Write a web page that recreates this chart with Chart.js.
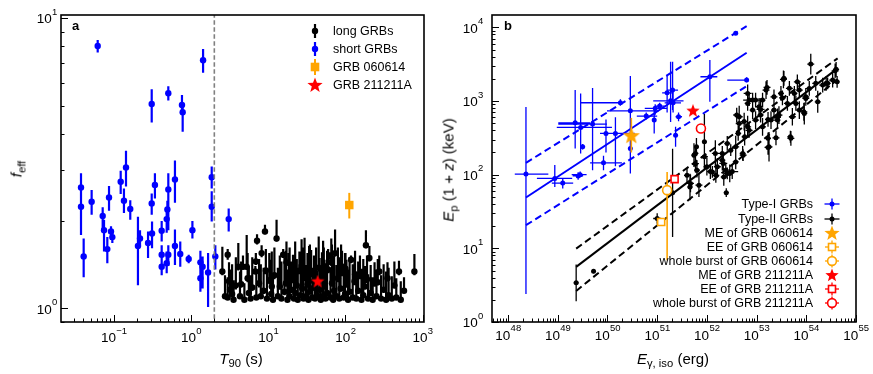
<!DOCTYPE html>
<html>
<head>
<meta charset="utf-8">
<script src="https://cdn.jsdelivr.net/npm/chart.js"></script>
<style>
  body { margin: 0; background: #fff; width: 873px; height: 374px; position: relative; overflow: hidden;
         font-family: "Liberation Sans", Arial, sans-serif; color: #000; }
  canvas { position: absolute; top: 0; }
  .t { position: absolute; white-space: nowrap; line-height: 1; }
  .c { transform: translate(-50%, -50%); }
  .r { transform: translate(-50%, -50%) rotate(-90deg); }
  .ttl { font-size: 15px; }
  .ttl sub { font-size: 0.75em; vertical-align: -0.35em; line-height: 0; }
  .lg { position: absolute; font-size: 12.5px; line-height: 16px; height: 16px; white-space: nowrap; }
  .lg svg { position: absolute; top: 0; }
  .pl { position: absolute; font-weight: bold; font-size: 13px; }
</style>
</head>
<body>
<canvas id="ca" width="440" height="374" style="left:0"></canvas>
<canvas id="cb" width="433" height="374" style="left:440px"></canvas>

<div class="pl" style="left:72px;top:18px">a</div>
<div class="pl" style="left:504px;top:18px">b</div>

<div class="t ttl r" style="left:16px;top:169px"><i>f</i><sub>eff</sub></div>
<div class="t ttl c" style="left:241px;top:358px"><i>T</i><sub>90</sub> (s)</div>
<div class="t ttl r" style="left:448px;top:170px"><i>E</i><sub>p</sub> (1 + <i>z</i>) (keV)</div>
<div class="t ttl c" style="left:673px;top:358px"><i>E</i><sub>γ, iso</sub> (erg)</div>

<div id="legA"></div>
<div id="legB"></div>

<script>
const FONT = '"Liberation Sans", Arial, sans-serif';
const BLUE = '#0000ff', ORANGE = '#ffa500', RED = '#ff0000', GREY = '#808080';

// ---------------- panel a : f_eff vs T90 ----------------
const shortT  = [0.0617,1.43,0.309,0.507,0.762,0.778,0.0375,0.0375,0.0406,0.0515,0.0716,0.0745,0.0822,0.0865,0.0918,0.0955,0.1225,0.135,0.1435,0.163,0.205,0.218,0.277,0.309,0.312,0.340,0.416,0.416,0.416,0.483,0.493,0.507,0.483,0.507,0.618,0.618,0.724,0.931,1.04,1.32,1.32,1.41,1.66,1.85,1.85,2.06,3.07];
const shortF  = [8.02,7.16,5.06,5.51,5.02,4.74,2.61,2.24,1.51,2.33,2.08,1.86,1.60,2.41,1.84,1.76,2.73,2.35,3.06,2.20,1.64,1.74,1.68,2.30,1.81,2.66,1.85,1.53,1.39,2.03,2.19,2.57,1.43,1.53,2.78,1.64,1.54,1.48,1.86,1.44,1.27,1.39,1.33,2.83,2.24,1.51,2.03];
const shortLo = [7.62,6.49,4.37,5.20,4.70,4.06,2.36,1.79,1.28,2.10,1.86,1.57,1.43,2.17,1.72,1.68,2.48,2.13,2.63,2.02,1.20,1.63,1.49,2.10,1.61,2.39,1.70,1.40,1.30,1.82,2.00,1.86,1.32,1.40,2.31,1.41,1.39,1.43,1.74,1.31,1.14,1.17,1.01,2.59,1.99,1.36,1.84];
const shortHi = [8.42,7.83,5.69,5.83,5.44,5.00,2.92,2.50,1.74,2.56,2.23,2.02,1.76,2.64,1.92,1.84,2.98,2.59,3.49,2.36,2.07,1.86,1.84,2.49,1.99,2.92,2.00,1.65,1.52,2.23,2.35,2.92,1.57,1.65,3.23,1.87,1.70,1.53,2.00,1.58,1.39,1.51,1.55,3.08,2.53,1.65,2.21];

const longT  = [2.54,2.75,2.98,2.98,3.2,3.4,3.55,3.8,4.09,4.3,4.45,4.7,4.9,5.25,5.6,5.9,6.2,6.9,6.8,7.15,7.0,7.6,8.2,8.0,8.7,9.06,9.6,10.3,10.9,11.5,12.0,12.8,13.3,14.1,14.8,15.6,16.2,16.9,17.7,18.4,18.9,19.8,20.9,21.5,22.3,23.4,24.1,25.3,26.2,27.5,28.6,29.5,30.9,32.2,33.1,34.6,35.9,37.2,39.1,40.3,41.6,43.0,46.1,47.9,49.6,51.3,53.5,55.2,57.8,59.6,61.7,64.0,66.8,69.3,73.3,71.2,76.4,79.7,83.1,86.5,90.2,94.8,98.6,103,108,113,118,124,131,138,146,154,161,170,184,178,196,204,212,225,238,252,274,289,312,336,362,398,430,493,455,520,573,781,3.1,5.4,9.3,11.1,17.2,27.0,33.8,45.0,52.4,65.5,87.7,100,133,190,262,350];
const longF  = [1.34,1.10,1.53,1.09,1.16,1.12,1.07,1.20,1.39,1.10,1.21,1.39,1.07,1.39,1.13,1.08,1.18,1.45,1.34,1.71,1.09,1.22,1.55,1.10,1.15,1.84,1.08,1.25,1.12,1.07,1.30,1.74,1.10,1.19,1.08,1.53,1.14,1.22,1.07,1.33,1.10,1.16,1.26,1.08,1.13,1.20,1.07,1.35,1.11,1.17,1.08,1.28,1.10,1.21,1.07,1.14,1.32,1.09,1.18,1.08,1.25,1.11,1.16,1.07,1.29,1.10,1.19,1.08,1.13,1.36,1.51,1.09,1.22,1.07,1.55,1.15,1.10,1.27,1.08,1.17,1.33,1.09,1.12,1.21,1.07,1.14,1.47,1.09,1.24,1.08,1.15,1.30,1.07,1.11,1.65,1.19,1.08,1.49,1.13,1.07,1.22,1.10,1.34,1.08,1.16,1.07,1.11,1.08,1.20,1.34,1.09,1.07,1.15,1.34,1.24,1.27,1.35,1.19,1.44,1.40,1.24,1.38,1.31,1.44,1.40,1.37,1.31,1.26,1.23,1.27];
const longLo = [1.30,1.08,1.47,1.07,1.13,1.10,1.06,1.16,1.35,1.08,1.18,1.36,1.06,1.36,1.11,1.07,1.15,1.41,1.32,1.66,1.07,1.18,1.50,1.08,1.12,1.80,1.07,1.21,1.10,1.06,1.26,1.70,1.08,1.16,1.07,1.49,1.11,1.19,1.06,1.29,1.08,1.13,1.22,1.07,1.11,1.17,1.06,1.31,1.09,1.14,1.07,1.24,1.08,1.18,1.06,1.12,1.28,1.07,1.15,1.07,1.21,1.09,1.13,1.06,1.25,1.08,1.16,1.07,1.11,1.32,1.47,1.07,1.19,1.06,1.51,1.12,1.08,1.23,1.07,1.14,1.29,1.07,1.10,1.18,1.06,1.12,1.43,1.07,1.20,1.07,1.12,1.26,1.06,1.09,1.61,1.16,1.07,1.45,1.11,1.06,1.19,1.08,1.30,1.07,1.13,1.06,1.09,1.07,1.17,1.30,1.07,1.06,1.13,1.30,1.21,1.23,1.31,1.16,1.40,1.36,1.21,1.34,1.27,1.40,1.36,1.33,1.27,1.22,1.20,1.24];
const longHi = [1.63,1.30,1.60,1.28,1.36,1.42,1.25,1.50,1.68,1.34,1.45,1.52,1.22,1.79,1.40,1.30,1.50,1.55,1.40,1.80,1.33,1.48,1.65,1.42,1.38,1.94,1.36,1.55,1.47,1.29,1.62,2.02,1.38,1.52,1.45,1.60,1.50,1.58,1.34,1.55,1.62,1.45,1.53,1.40,1.70,1.48,1.36,1.57,1.52,1.44,1.62,1.75,1.41,1.55,1.48,1.66,1.59,1.38,1.52,1.44,1.62,1.35,1.49,1.40,1.56,1.71,1.47,1.43,1.58,1.60,1.56,1.38,1.66,1.45,1.87,1.52,1.41,1.62,1.50,1.44,1.58,1.39,1.55,1.47,1.36,1.50,1.52,1.42,1.49,1.33,1.45,1.52,1.37,1.48,1.86,1.40,1.31,1.64,1.41,1.28,1.44,1.36,1.52,1.30,1.42,1.34,1.38,1.29,1.45,1.46,1.27,1.24,1.28,1.54,1.44,1.55,1.60,1.57,1.70,1.73,1.64,1.77,1.62,1.74,1.66,1.55,1.58,1.52,1.48,1.44];

const grb060614T = [112],  grb060614F = [2.27], grb060614Lo = [2.04], grb060614Hi = [2.50];
const grb211211T = [43.6], grb211211F = [1.235];
const t90Cut = 2;

const aXMajor = [0.1, 1, 10, 100, 1000];
const aXLabels = ['10^\u22121', '10^0', '10^1', '10^2', '10^3'];
const aYMajor = [1, 10];
const aYLabels = ['10^0', '10^1'];

// ---------------- panel b : Ep(1+z) vs E_iso ----------------
const typeILogE   = [48.36,48.94,49.10,49.41,49.45,49.35,49.46,49.50,49.70,49.92,49.97,50.16,50.26,50.46,50.46,50.78,50.94,50.96,51.05,51.20,51.31,51.27,51.32,51.43,51.37,52.06,52.58,52.80];
const typeIEp     = [102,89,77,96,100,506,438,239,486,145,363,363,946,736,227,624,550,794,852,1290,1406,1006,945,611,344,2133,8280,1923];
const typeILogELo = [48.135,48.58,48.88,49.30,49.28,49.01,48.98,49.45,49.01,49.65,49.85,49.85,49.45,49.99,50.46,50.59,50.94,50.75,50.95,51.10,51.20,50.92,51.15,51.37,51.37,51.87,52.55,52.41];
const typeILogEHi = [48.81,49.29,49.31,49.51,49.58,49.65,50.09,49.55,49.99,50.29,50.29,50.55,50.29,51.03,50.46,51.00,50.94,51.20,51.15,51.30,51.42,51.53,51.48,51.50,51.37,52.21,52.61,52.80];
const typeIEpLo   = [2.4,68,65,85,92,227,194,220,115,115,200,130,870,326,104,560,363,650,760,700,752,520,700,530,239,975,7900,1800];
const typeIEpHi   = [830,135,88,108,110,1406,1260,260,1500,180,560,600,1060,2180,446,700,752,900,950,2200,3400,3400,1400,700,446,3600,8700,2100];

const typeIILogE = [49.37,49.72,51.0,51.31,51.6,51.66,51.67,51.74,51.77,51.77,51.79,51.8,51.84,51.95,51.95,52.0,52.07,52.11,52.17,52.18,52.21,52.31,52.31,52.33,52.34,52.38,52.39,52.41,52.41,52.46,52.48,52.51,52.58,52.58,52.6,52.63,52.65,52.65,52.72,52.73,52.75,52.76,52.82,52.82,52.82,52.85,52.85,52.92,52.92,52.98,52.98,53.05,53.08,53.08,53.12,53.12,53.19,53.21,53.23,53.23,53.23,53.25,53.29,53.35,53.35,53.39,53.42,53.42,53.45,53.49,53.52,53.54,53.55,53.62,53.66,53.68,53.69,53.72,53.76,53.79,53.82,53.86,53.86,53.95,53.96,53.99,53.99,54.06,54.09,54.19,54.23,54.33,54.4,54.43,54.53,54.58,54.6,54.62];
const typeIIEp   = [3.4,4.9,25.4,56.6,98,68,76,184,141,194,239,115,72,279,175,128,110,109,194,98,128,157,194,142,93,115,57,104,265,104,215,110,239,149,645,363,495,611,194,184,525,327,446,927,1267,1028,400,752,1028,550,1028,836,645,769,446,1028,1406,1530,562,234,311,239,550,752,1140,316,550,600,643,1267,1100,1964,2030,927,1484,327,311,611,1267,927,1820,752,1405,713,677,1082,1140,1480,3170,1735,975,1645,1735,1735,1923,2570,2690,1820];
// half widths of the error bars, in dex
const typeIIdEp  = [0.25,0.03,0.07,0.6,0.10,0.18,0.12,0.16,0.12,0.10,0.12,0.10,0.16,0.38,0.10,0.12,0.10,0.08,0.18,0.10,0.12,0.14,0.10,0.10,0.12,0.10,0.06,0.08,0.10,0.12,0.08,0.10,0.15,0.10,0.10,0.10,0.12,0.15,0.10,0.08,0.12,0.12,0.15,0.10,0.12,0.08,0.10,0.12,0.10,0.12,0.10,0.12,0.10,0.15,0.12,0.10,0.12,0.10,0.10,0.10,0.08,0.20,0.12,0.12,0.10,0.10,0.10,0.12,0.12,0.10,0.10,0.12,0.10,0.10,0.10,0.08,0.10,0.12,0.10,0.10,0.10,0.12,0.10,0.12,0.15,0.10,0.12,0.10,0.14,0.10,0.15,0.10,0.10,0.08,0.10,0.10,0.10,0.08];
const typeIIdE   = [0.05,0.03,0.08,0.05,0.06,0.05,0.07,0.05,0.07,0.06,0.05,0.06,0.07,0.05,0.07,0.07,0.06,0.05,0.07,0.07,0.07,0.06,0.07,0.08,0.06,0.07,0.05,0.07,0.06,0.07,0.05,0.12,0.07,0.06,0.07,0.06,0.07,0.07,0.06,0.07,0.07,0.06,0.07,0.06,0.08,0.12,0.07,0.06,0.07,0.07,0.06,0.07,0.06,0.08,0.07,0.06,0.07,0.07,0.06,0.07,0.06,0.07,0.07,0.06,0.07,0.07,0.06,0.07,0.07,0.06,0.07,0.07,0.06,0.07,0.07,0.06,0.07,0.07,0.06,0.07,0.07,0.06,0.07,0.07,0.06,0.07,0.07,0.06,0.07,0.07,0.06,0.07,0.07,0.06,0.07,0.07,0.06,0.05];

const me060614 = { logE: 50.48, ep: 334, epLo: 200, epHi: 590 };
const ee060614 = { logE: 51.08, ep: 22.8, logELo: 51.03, logEHi: 51.14, epLo: 20.5, epHi: 25 };
const wb060614 = { logE: 51.2, ep: 61.6, epLo: 6.9, epHi: 109 };
const me211211 = { logE: 51.72, ep: 729 };
const ee211211 = { logE: 51.35, ep: 87, epLo: 80, epHi: 94 };
const wb211211 = { logE: 51.88, ep: 424 };

const typeIFitLogE = [48.36, 52.80];
const typeIFitEp   = [49, 4520];
const typeIUpEp    = [145, 10400];
const typeILowEp   = [20.6, 1593];
const typeIIFitLogE = [49.37, 54.63];
const typeIIFitEp   = [5.6, 2770];
const typeIIUpEp    = [9.9, 3790];
const typeIILowEp   = [2.64, 1964];

const bXMajor = [1e48, 1e49, 1e50, 1e51, 1e52, 1e53, 1e54, 1e55];
const bXLabels = ['10^48', '10^49', '10^50', '10^51', '10^52', '10^53', '10^54', '10^55'];
const bYMajor = [1, 10, 100, 1000, 10000];
const bYLabels = ['10^0', '10^1', '10^2', '10^3', '10^4'];

// ---------------- helpers ----------------
const p10 = v => Math.pow(10, v);

function logTicks(min, max, majors, labels) {
  const out = [];
  const lo = Math.floor(Math.log10(min)), hi = Math.ceil(Math.log10(max));
  for (let e = lo; e <= hi; e++) {
    for (let k = 1; k <= 9; k++) {
      const v = k * Math.pow(10, e);
      if (v < min * 0.99999 || v > max * 1.00001) continue;
      const mi = majors.findIndex(m => Math.abs(m / v - 1) < 1e-9);
      out.push({ value: v, major: mi >= 0, lbl: mi >= 0 ? labels[mi] : '' });
    }
  }
  return out;
}

// tick labels are laid out by the scale; the "10^n" text is drawn by the frame plugin
function logAxis(min, max, majors, labels, size, isX, gap) {
  return {
    type: 'logarithmic', min, max, bounds: 'data',
    grid: { display: false, drawTicks: false },
    border: { display: false },
    ticks: { display: false, autoSkip: false },
    labelGap: gap,
    afterBuildTicks: s => { s.ticks = logTicks(min, max, majors, labels); },
    afterFit: s => { if (isX) s.height = size; else s.width = size; }
  };
}

function starImg(color, size) {
  const c = document.createElement('canvas');
  c.width = c.height = size;
  const g = c.getContext('2d');
  const r = size / 2, ri = r * 0.42;
  g.beginPath();
  for (let i = 0; i < 10; i++) {
    const a = -Math.PI / 2 + i * Math.PI / 5, rr = i % 2 ? ri : r;
    g.lineTo(r + rr * Math.cos(a), r + rr * Math.sin(a));
  }
  g.closePath(); g.fillStyle = color; g.fill();
  return c;
}

// error bars drawn just under each dataset's markers
const errPlugin = {
  id: 'errbars',
  beforeDatasetDraw(chart, args) {
    const ds = chart.data.datasets[args.index];
    if (!ds.err) return;
    const xs = chart.scales.x, ys = chart.scales.y, ctx = chart.ctx, a = chart.chartArea;
    ctx.save();
    ctx.beginPath(); ctx.rect(a.left, a.top, a.right - a.left, a.bottom - a.top); ctx.clip();
    ctx.strokeStyle = ds.errColor; ctx.lineWidth = ds.errWidth;
    ctx.beginPath();
    ds.data.forEach((p, i) => {
      const e = ds.err[i];
      const px = xs.getPixelForValue(p.x), py = ys.getPixelForValue(p.y);
      if (e.ylo != null) { ctx.moveTo(px, ys.getPixelForValue(e.ylo)); ctx.lineTo(px, ys.getPixelForValue(e.yhi)); }
      if (e.xlo != null) { ctx.moveTo(xs.getPixelForValue(e.xlo), py); ctx.lineTo(xs.getPixelForValue(e.xhi), py); }
    });
    ctx.stroke();
    ctx.restore();
  }
};

// matplotlib-like frame, inward ticks and 10^n tick labels
function drawPow(ctx, text, x, y, align) {
  const [base, exp] = text.split('^');
  ctx.font = '13.5px ' + FONT;
  const w1 = ctx.measureText(base).width;
  ctx.font = '9.5px ' + FONT;
  const w2 = ctx.measureText(exp).width;
  const x0 = align === 'right' ? x - w1 - w2 : x - (w1 + w2) / 2;
  ctx.textAlign = 'left'; ctx.textBaseline = 'middle';
  ctx.font = '13.5px ' + FONT;
  ctx.fillText(base, x0, y);
  ctx.font = '9.5px ' + FONT;
  ctx.fillText(exp, x0 + w1 + 0.3, y - 7.5);
}

const framePlugin = {
  id: 'frame',
  afterDraw(chart) {
    const { ctx, chartArea: a } = chart;
    const xs = chart.scales.x, ys = chart.scales.y;
    ctx.save();
    ctx.strokeStyle = '#000'; ctx.fillStyle = '#000'; ctx.lineWidth = 1;
    ctx.beginPath();
    xs.ticks.forEach(t => {
      const px = Math.round(xs.getPixelForValue(t.value)) + 0.5, len = t.major ? 7 : 3.5;
      ctx.moveTo(px, a.bottom); ctx.lineTo(px, a.bottom - len);
    });
    ys.ticks.forEach(t => {
      const py = Math.round(ys.getPixelForValue(t.value)) + 0.5, len = t.major ? 7 : 3.5;
      ctx.moveTo(a.left, py); ctx.lineTo(a.left + len, py);
    });
    ctx.stroke();
    ctx.lineWidth = 1.6;
    ctx.strokeRect(a.left, a.top, a.right - a.left, a.bottom - a.top);
    xs.ticks.forEach(t => {
      if (t.lbl) drawPow(ctx, t.lbl, xs.getPixelForValue(t.value), a.bottom + xs.options.labelGap, 'center');
    });
    ys.ticks.forEach(t => {
      if (t.lbl) drawPow(ctx, t.lbl, a.left - ys.options.labelGap, ys.getPixelForValue(t.value) + 1.5, 'right');
    });
    ctx.restore();
  }
};

// ---------------- chart a ----------------
new Chart(document.getElementById('ca'), {
  type: 'scatter',
  data: {
    datasets: [
      { label: 'T90 = 2 s', data: [{ x: t90Cut, y: 0.5 }, { x: t90Cut, y: 20 }], showLine: true,
        borderColor: GREY, borderWidth: 1.6, borderDash: [4.5, 2.5], pointRadius: 0, order: 0 },
      { label: 'GRB 211211A', data: grb211211T.map((t, i) => ({ x: t, y: grb211211F[i] })),
        pointStyle: starImg(RED, 14), order: 1 },
      { label: 'GRB 060614', data: grb060614T.map((t, i) => ({ x: t, y: grb060614F[i] })),
        err: grb060614T.map((t, i) => ({ ylo: grb060614Lo[i], yhi: grb060614Hi[i] })), errColor: ORANGE, errWidth: 2,
        pointStyle: 'rect', pointRadius: 6, backgroundColor: ORANGE, borderColor: ORANGE, borderWidth: 0, order: 2 },
      { label: 'short GRBs', data: shortT.map((t, i) => ({ x: t, y: shortF[i] })),
        err: shortT.map((t, i) => ({ ylo: shortLo[i], yhi: shortHi[i] })), errColor: BLUE, errWidth: 2.2,
        pointRadius: 3.2, backgroundColor: BLUE, borderWidth: 0, order: 3 },
      { label: 'long GRBs', data: longT.map((t, i) => ({ x: t, y: longF[i] })),
        err: longT.map((t, i) => ({ ylo: longLo[i], yhi: longHi[i] })), errColor: '#000', errWidth: 2.2,
        pointRadius: 3.2, backgroundColor: '#000', borderWidth: 0, order: 4 }
    ]
  },
  options: {
    responsive: false, animation: false,
    layout: { padding: { left: 0, right: 16, top: 15, bottom: 0 } },
    plugins: { legend: { display: false }, tooltip: { enabled: false } },
    scales: {
      x: logAxis(0.02065, 1040, aXMajor, aXLabels, 52, true, 16.5),
      y: logAxis(0.897, 10.26, aYMajor, aYLabels, 61, false, 4)
    }
  },
  plugins: [errPlugin, framePlugin]
});

// ---------------- chart b ----------------
const line = (logE, ep, color, dash, order, label) => ({
  label, data: logE.map((v, i) => ({ x: p10(v), y: ep[i] })), showLine: true,
  borderColor: color, borderWidth: 2, borderDash: dash, pointRadius: 0, order
});

new Chart(document.getElementById('cb'), {
  type: 'scatter',
  data: {
    datasets: [
      { label: 'whole burst of GRB 211211A', data: [{ x: p10(wb211211.logE), y: wb211211.ep }],
        pointRadius: 4.5, borderColor: RED, borderWidth: 1.6, backgroundColor: '#fff', order: 0 },
      { label: 'EE of GRB 211211A', data: [{ x: p10(ee211211.logE), y: ee211211.ep }],
        err: [{ ylo: ee211211.epLo, yhi: ee211211.epHi }], errColor: RED, errWidth: 1.4,
        pointStyle: 'rect', pointRadius: 5, borderColor: RED, borderWidth: 1.6, backgroundColor: '#fff', order: 1 },
      { label: 'ME of GRB 211211A', data: [{ x: p10(me211211.logE), y: me211211.ep }],
        pointStyle: starImg(RED, 14), order: 2 },
      { label: 'whole burst of GRB 060614', data: [{ x: p10(wb060614.logE), y: wb060614.ep }],
        err: [{ ylo: wb060614.epLo, yhi: wb060614.epHi }], errColor: ORANGE, errWidth: 1.6,
        pointRadius: 4.5, borderColor: ORANGE, borderWidth: 1.6, backgroundColor: '#fff', order: 3 },
      { label: 'EE of GRB 060614', data: [{ x: p10(ee060614.logE), y: ee060614.ep }],
        err: [{ xlo: p10(ee060614.logELo), xhi: p10(ee060614.logEHi), ylo: ee060614.epLo, yhi: ee060614.epHi }],
        errColor: ORANGE, errWidth: 1.4,
        pointStyle: 'rect', pointRadius: 5, borderColor: ORANGE, borderWidth: 1.6, backgroundColor: '#fff', order: 4 },
      { label: 'ME of GRB 060614', data: [{ x: p10(me060614.logE), y: me060614.ep }],
        err: [{ ylo: me060614.epLo, yhi: me060614.epHi }], errColor: ORANGE, errWidth: 1.6,
        pointStyle: starImg(ORANGE, 18), order: 5 },
      line(typeIIFitLogE, typeIIFitEp, '#000', [], 6, 'Type-II fit'),
      line(typeIIFitLogE, typeIIUpEp, '#000', [7, 4], 6, 'Type-II upper'),
      line(typeIIFitLogE, typeIILowEp, '#000', [7, 4], 6, 'Type-II lower'),
      line(typeIFitLogE, typeIFitEp, BLUE, [], 7, 'Type-I fit'),
      line(typeIFitLogE, typeIUpEp, BLUE, [7, 4], 7, 'Type-I upper'),
      line(typeIFitLogE, typeILowEp, BLUE, [7, 4], 7, 'Type-I lower'),
      { label: 'Type-II GRBs', data: typeIILogE.map((v, i) => ({ x: p10(v), y: typeIIEp[i] })),
        err: typeIILogE.map((v, i) => ({ xlo: p10(v - typeIIdE[i]), xhi: p10(v + typeIIdE[i]),
                                          ylo: typeIIEp[i] / p10(typeIIdEp[i]), yhi: typeIIEp[i] * p10(typeIIdEp[i]) })),
        errColor: '#000', errWidth: 1.3, pointRadius: 2.5, backgroundColor: '#000', borderWidth: 0, order: 8 },
      { label: 'Type-I GRBs', data: typeILogE.map((v, i) => ({ x: p10(v), y: typeIEp[i] })),
        err: typeILogE.map((v, i) => ({ xlo: p10(typeILogELo[i]), xhi: p10(typeILogEHi[i]), ylo: typeIEpLo[i], yhi: typeIEpHi[i] })),
        errColor: BLUE, errWidth: 1.3, pointRadius: 2.5, backgroundColor: BLUE, borderWidth: 0, order: 9 }
    ]
  },
  options: {
    responsive: false, animation: false,
    layout: { padding: { left: 0, right: 17, top: 15, bottom: 0 } },
    plugins: { legend: { display: false }, tooltip: { enabled: false } },
    scales: {
      x: logAxis(4.75e47, 1e55, bXMajor, bXLabels, 52, true, 14),
      y: logAxis(1, 14700, bYMajor, bYLabels, 52, false, 9)
    }
  },
  plugins: [errPlugin, framePlugin]
});

// ---------------- legends ----------------
function starPts(cx, cy, r) {
  const pts = [];
  for (let i = 0; i < 10; i++) {
    const a = -Math.PI / 2 + i * Math.PI / 5, rr = i % 2 ? r * 0.42 : r;
    pts.push((cx + rr * Math.cos(a)).toFixed(2) + ',' + (cy + rr * Math.sin(a)).toFixed(2));
  }
  return pts.join(' ');
}
function marker(kind, color) {
  let s = '<svg width="22" height="16" viewBox="0 0 22 16">';
  const st = `stroke="${color}"`;
  if (kind === 'vbar') s += `<line x1="11" y1="1" x2="11" y2="15" ${st} stroke-width="2.2"/><circle cx="11" cy="8" r="3.2" fill="${color}"/>`;
  if (kind === 'sqbar') s += `<line x1="11" y1="0" x2="11" y2="16" ${st} stroke-width="2"/><rect x="6.7" y="3.7" width="8.6" height="8.6" fill="${color}"/>`;
  if (kind === 'cross') s += `<line x1="3.5" y1="8" x2="18.5" y2="8" ${st} stroke-width="1.3"/><line x1="11" y1="2.5" x2="11" y2="13.5" ${st} stroke-width="1.3"/><circle cx="11" cy="8" r="2.5" fill="${color}"/>`;
  if (kind === 'star') s += `<polygon points="${starPts(11, 8.5, 8)}" fill="${color}"/>`;
  if (kind === 'star2') s += `<polygon points="${starPts(11, 8.5, 7)}" fill="${color}"/>`;
  if (kind === 'osq') s += `<line x1="4" y1="8" x2="18" y2="8" ${st} stroke-width="1.3"/><line x1="11" y1="1.5" x2="11" y2="14.5" ${st} stroke-width="1.3"/><rect x="7.5" y="4.5" width="7" height="7" fill="#fff" ${st} stroke-width="1.6"/>`;
  if (kind === 'ocirc') s += `<line x1="4" y1="8" x2="18" y2="8" ${st} stroke-width="1.3"/><line x1="11" y1="1.5" x2="11" y2="14.5" ${st} stroke-width="1.3"/><circle cx="11" cy="8" r="4.4" fill="#fff" ${st} stroke-width="1.6"/>`;
  return s + '</svg>';
}

const legA = [
  ['long GRBs', 'vbar', '#000'], ['short GRBs', 'vbar', BLUE],
  ['GRB 060614', 'sqbar', ORANGE], ['GRB 211211A', 'star', RED]
];
const legAY = [31, 49, 67, 85];
document.getElementById('legA').innerHTML = legA.map((r, i) =>
  `<div class="lg" style="left:304px;top:${legAY[i] - 8}px;width:130px">` +
  `<span style="position:absolute;left:0">${marker(r[1], r[2])}</span>` +
  `<span style="position:absolute;left:29px">${r[0]}</span></div>`).join('');

const legB = [
  ['Type-I GRBs', 'cross', BLUE], ['Type-II GRBs', 'cross', '#000'],
  ['ME of GRB 060614', 'star', ORANGE], ['EE of GRB 060614', 'osq', ORANGE],
  ['whole burst of GRB 060614', 'ocirc', ORANGE], ['ME of GRB 211211A', 'star2', RED],
  ['EE of GRB 211211A', 'osq', RED], ['whole burst of GRB 211211A', 'ocirc', RED]
];
const legBY = [204, 218.5, 232.5, 246.7, 261, 275, 289, 303.3];
document.getElementById('legB').innerHTML = legB.map((r, i) =>
  `<div class="lg" style="left:600px;top:${legBY[i] - 8}px;width:243px">` +
  `<span style="position:absolute;right:30px">${r[0]}</span>` +
  `<span style="position:absolute;left:221px">${marker(r[1], r[2])}</span></div>`).join('');
</script>
</body>
</html>
